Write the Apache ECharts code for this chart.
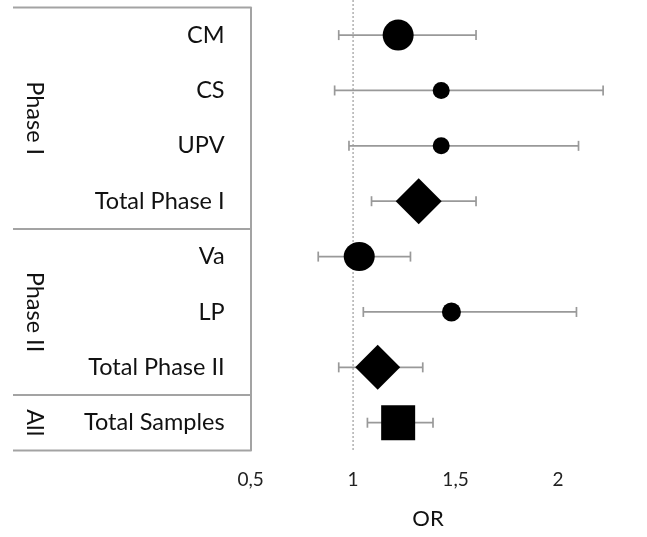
<!DOCTYPE html>
<html><head><meta charset="utf-8">
<script src="https://cdn.jsdelivr.net/npm/echarts@6/dist/echarts.min.js"></script>
<style>html,body{margin:0;padding:0;background:#fff}#c{width:647px;height:537px}</style>
</head><body><div id="c"></div>
<script>
const categories = ["CM", "CS", "UPV", "Total Phase I", "Va", "LP", "Total Phase II", "Total Samples"];
const orValues = [1.22, 1.43, 1.43, 1.32, 1.03, 1.48, 1.12, 1.22];
const ciLower = [0.93, 0.91, 0.98, 1.09, 0.83, 1.05, 0.93, 1.07];
const ciUpper = [1.60, 2.22, 2.10, 1.60, 1.28, 2.09, 1.34, 1.39];
const groupNames = ["Phase I", "Phase II", "All"];
const groupSizes = [4, 3, 1];
const tickValues = [0.5, 1, 1.5, 2];
const tickLabels = ["0,5", "1", "1,5", "2"];
const refValue = 1;
const axisTitle = "OR";

// marker styles (shape and size per row)
const markerStyles = [
  { symbol: 'circle', size: 31 },
  { symbol: 'circle', size: 17 },
  { symbol: 'circle', size: 17 },
  { symbol: 'diamond', size: [46, 46] },
  { symbol: 'circle', size: [31, 29] },
  { symbol: 'circle', size: 19 },
  { symbol: 'diamond', size: [45, 45] },
  { symbol: 'rect', size: [34, 35] }
];
const FONT = 'Lato, "Open Sans", sans-serif';
const LINE = '#a3a3a3';
const TXT = '#111';

const chart = echarts.init(document.getElementById('c'), null, { renderer: 'canvas' });

const option = {
  animation: false,
  backgroundColor: '#fff',
  grid: { left: 250.6, right: 7, top: 7.4, bottom: 86.6 },
  xAxis: {
    type: 'value', min: 0.5, max: 2.4, interval: 0.5,
    splitLine: { show: false },
    axisLine: { lineStyle: { color: LINE, width: 2 } },
    axisTick: { inside: true, length: 8, customValues: tickValues, lineStyle: { color: LINE, width: 1.5 } },
    axisLabel: {
      customValues: tickValues, margin: 20, fontSize: 19, color: '#222', fontFamily: FONT,
      formatter: v => tickLabels[tickValues.indexOf(v)]
    }
  },
  yAxis: {
    type: 'category', inverse: true, data: categories,
    axisLine: { lineStyle: { color: LINE, width: 2 } },
    axisTick: { show: false },
    splitLine: { show: false },
    axisLabel: { margin: 26, fontSize: 23.5, color: TXT, fontFamily: FONT }
  },
  series: [
    {
      type: 'custom', z: 2,
      data: categories.map((c, i) => [ciLower[i], ciUpper[i], i]),
      encode: { x: [0, 1], y: 2 },
      renderItem: (params, api) => {
        const a = api.coord([api.value(0), api.value(2)]);
        const b = api.coord([api.value(1), api.value(2)]);
        const h = 5;
        const st = { stroke: '#999', lineWidth: 1.7 };
        return {
          type: 'group', children: [
            { type: 'line', shape: { x1: a[0], y1: a[1], x2: b[0], y2: b[1] }, style: st },
            { type: 'line', shape: { x1: a[0], y1: a[1] - h, x2: a[0], y2: a[1] + h }, style: st },
            { type: 'line', shape: { x1: b[0], y1: b[1] - h, x2: b[0], y2: b[1] + h }, style: st }
          ]
        };
      }
    },
    {
      type: 'scatter', z: 5,
      itemStyle: { color: '#000', opacity: 1 },
      data: categories.map((c, i) => ({
        value: [orValues[i], i],
        symbol: markerStyles[i].symbol,
        symbolSize: markerStyles[i].size
      }))
    }
  ]
};
chart.setOption(option);

// table decorations derived from axis positions
const yc = categories.map((c, i) => chart.convertToPixel({ yAxisIndex: 0 }, i));
const band = yc[1] - yc[0];
const edge = k => yc[0] - band / 2 + k * band; // boundary before row k
const gridLeft = chart.convertToPixel({ xAxisIndex: 0 }, 0.5);
const refX = chart.convertToPixel({ xAxisIndex: 0 }, refValue);
const tableLeft = 13;
const graphics = [];
let start = 0;
const bounds = [0];
groupSizes.forEach(s => { start += s; bounds.push(start); });
bounds.forEach(k => {
  graphics.push({ type: 'line', z: 1, shape: { x1: tableLeft, y1: edge(k), x2: gridLeft, y2: edge(k) }, style: { stroke: LINE, lineWidth: 2 } });
});
groupNames.forEach((g, j) => {
  const cy = (edge(bounds[j]) + edge(bounds[j + 1])) / 2;
  graphics.push({
    type: 'text', x: 35, y: cy, rotation: -Math.PI / 2,
    style: { text: g, fill: TXT, font: '23.5px ' + FONT, textAlign: 'center', textVerticalAlign: 'middle' }
  });
});
graphics.push({ type: 'line', z: 0, shape: { x1: refX, y1: 0, x2: refX, y2: edge(categories.length) }, style: { stroke: '#888', lineWidth: 1, lineDash: [2, 2] } });
graphics.push({
  type: 'text', x: 428, y: 519,
  style: { text: axisTitle, fill: TXT, font: '22px ' + FONT, textAlign: 'center', textVerticalAlign: 'middle' }
});
chart.setOption({ graphic: graphics });
</script>
</body></html>
